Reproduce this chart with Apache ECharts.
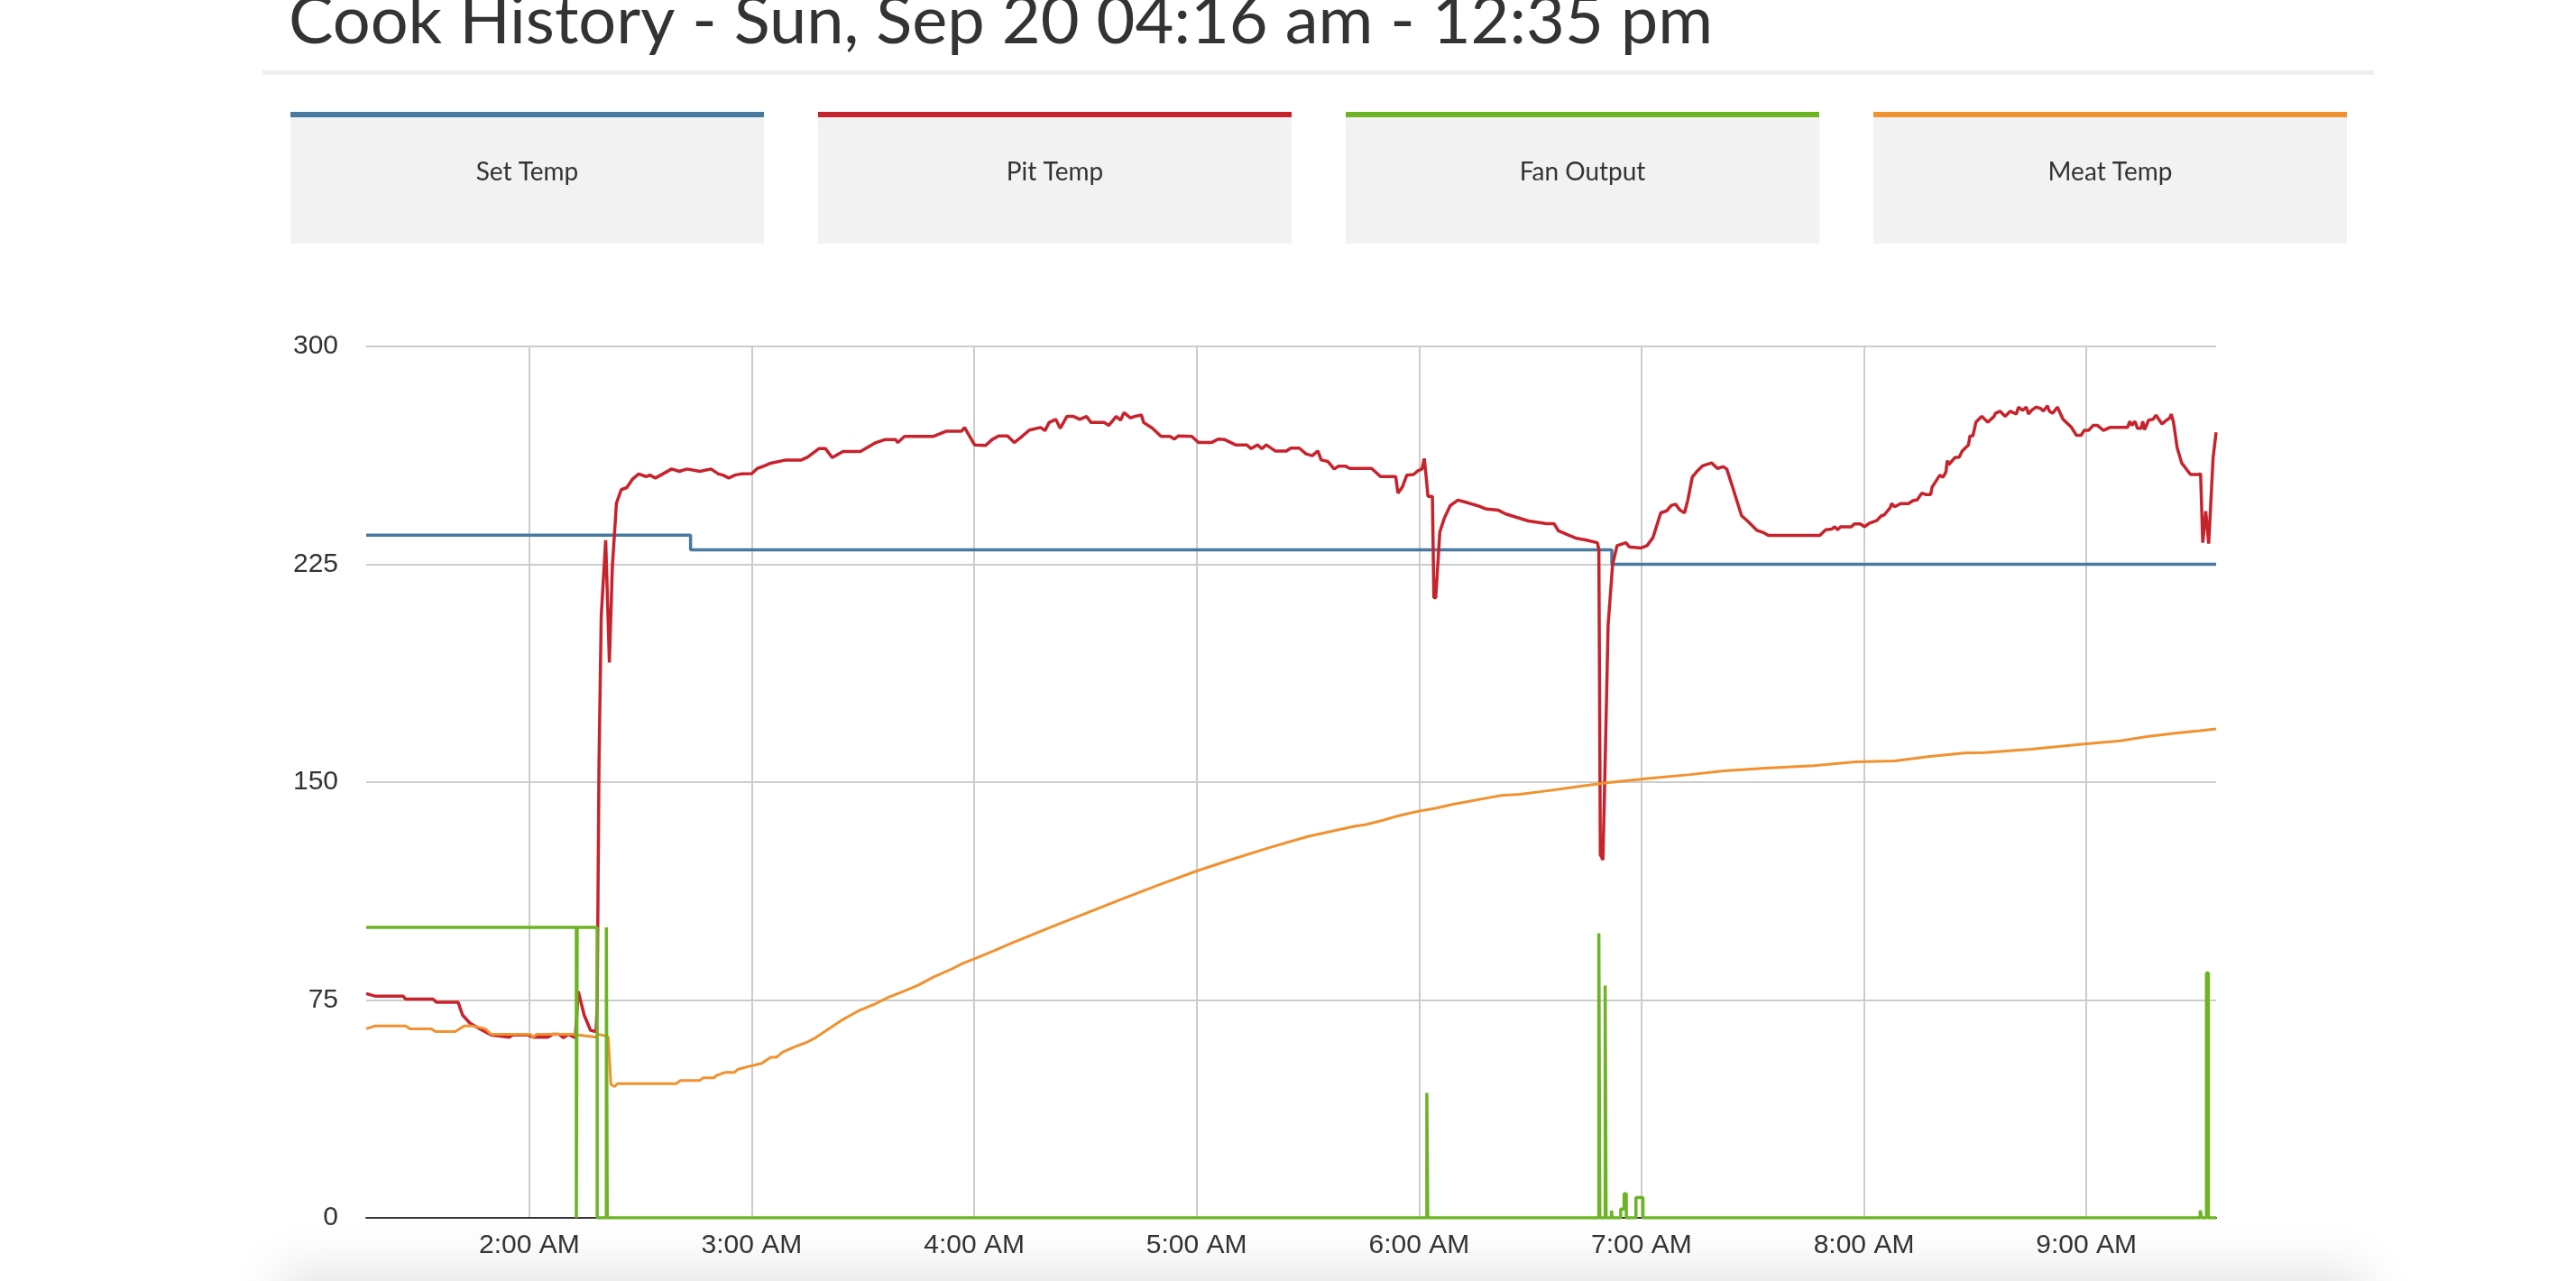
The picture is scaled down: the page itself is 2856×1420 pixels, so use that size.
<!DOCTYPE html>
<html><head><meta charset="utf-8">
<script src="https://cdn.jsdelivr.net/npm/echarts@6/dist/echarts.min.js"></script>
<style>
html,body{margin:0;padding:0;background:#fff;width:2856px;height:1420px;overflow:hidden;position:relative}
#shadow{position:absolute;left:330px;width:2270px;top:1430px;height:100px;box-shadow:0 0 60px 20px rgba(0,0,0,0.12);background:#eee}
#chart{position:absolute;left:0;top:0;width:2856px;height:1420px;z-index:1}
</style></head><body>
<div id="shadow"></div>
<div id="chart"></div>
<script>
// ---- data (times in minutes after midnight) ----
const titleText = 'Cook History - Sun, Sep 20 04:16 am - 12:35 pm';
const seriesNames = ['Set Temp', 'Pit Temp', 'Fan Output', 'Meat Temp'];
const seriesColors = ['#48799f', '#c7232c', '#6cb424', '#f1912f'];
const xTickMinutes = [120, 180, 240, 300, 360, 420, 480, 540];
const xTickLabels = ['2:00 AM', '3:00 AM', '4:00 AM', '5:00 AM', '6:00 AM', '7:00 AM', '8:00 AM', '9:00 AM'];
const yTicks = [0, 75, 150, 225, 300];

const setTimes = [76, 163.5, 412, 575];
const setValues = [235, 230, 225, 225];

const pitTimes = [76, 78.5, 86, 86.6, 94, 95, 100.8, 102, 104, 107.3, 109.7, 114.6, 115.5, 119.5, 121, 125, 126.3, 128, 129.2, 130.5, 132.4, 133.2, 134.8, 136.5, 138, 138.3, 138.8, 139.4, 140.6, 141.6, 142.4, 143.5, 144.8, 146.3, 147.9, 149.5, 151.5, 152.5, 154, 156, 158.4, 160.5, 162.5, 166, 169, 171, 172.2, 173.8, 175.5, 177.1, 180,
  181.5, 183.3, 185.1, 189.2, 193.4, 195.1, 198.1, 199.9, 201.7, 204.6, 209.3, 213.5, 215.9, 218.8, 219.4, 221.2, 228.9, 232.4, 236.6, 237.4, 240.1, 243.1, 244.8, 246.6, 249, 250.8, 252.5, 254.9, 257.9, 259.1, 260.2, 262, 263.2, 265, 266.8, 268.5, 270.3, 271.5, 275.1, 276.3, 278.3, 279.5, 280.4, 282.1, 283.3, 285.1, 285.7, 288.1, 290.4, 292.8, 294, 295.1, 298.7, 300.5, 304, 305.8, 307.6, 310.5, 313.5, 314.7, 316.4, 317.6, 318.8, 321.2, 324.2, 325.4, 327.7, 329.5, 331.2, 332.7, 333.6, 335.4, 337.1, 338.3, 340.1, 341.3, 347.2, 349.6, 353.7, 354.3, 355.5, 356.7, 358.5, 359.7, 360.8, 361.4,
  361.9, 362.4, 363.6, 364.0, 364.5, 365.6, 366.8, 368.4, 370.5, 373.3, 375.7, 378.2, 381.4, 383.4, 389.5, 394.4, 396.4, 397.6, 400.0, 402.5, 404.9, 408.1, 408.5, 408.9, 409.6, 410.2, 411.0, 412.2, 413.4, 415.8, 416.7, 419.9, 421.5, 423.1, 425.2, 426.8, 428, 429.2, 430.4, 431.6, 432.5, 433.7, 434.9, 436.5, 438.9, 440.5, 442, 443, 444.6, 447, 448.6, 451.1, 452.7, 454.3, 468.1,
  469.7, 471.3, 472.1, 472.9, 473.7, 476.6, 477.4, 479, 480.2, 481.4, 483.4, 484.7, 485.5, 487.1, 487.5, 488.3, 489.9, 492, 493.2, 494.4, 495.6, 496.8, 498, 498.4, 500.5, 501.3, 502.1, 502.5, 502.9, 504.5, 505.7, 506.5, 508.2, 508.6, 509.4, 510.2, 511.8, 513.4, 515.1, 515.5, 516.7, 518.1, 519.5, 521.1, 521.7, 522.8, 523.8, 524.4, 525.2, 526.4, 527.6, 528.4, 529.5, 530, 530.9, 532.2, 533.7, 536, 537.3, 538.6, 539.4, 540.6, 541.8, 543, 544.6, 546.3, 551.1, 551.7, 552.3, 553.1, 553.8, 554.8, 555.2, 555.7, 556.8, 558, 558.8, 560.4, 561.2, 562.5, 562.9, 563.5, 564.5, 565.7, 567.3, 568.1, 570.3, 570.8, 571.4, 572.2, 573, 574.2, 575];
const pitValues = [77.2, 76.3, 76.3, 75.3, 75.3, 74.2, 74.2, 69.8, 67, 64.6, 63, 62.2, 63, 63, 62.2, 62.2, 63.2, 63.2, 62, 63.2, 62, 78, 69.8, 64.6, 64.1, 72.5, 156.7, 207.2, 233.3, 191.2, 224.1, 246, 250.7, 251.4, 254.4, 256.1, 255.2, 255.7, 254.7, 256.1, 257.8, 257, 257.8, 257, 257.8, 256.1, 255.7, 254.7, 255.7, 256.1, 256.2,
  258, 258.8, 259.8, 260.9, 260.9, 261.9, 264.8, 264.8, 261.7, 263.8, 263.8, 266.9, 267.9, 267.9, 266.9, 269, 269, 270.8, 270.8, 272.1, 266.1, 265.9, 267.9, 269.2, 269.2, 266.9, 268.6, 271.2, 272.1, 271, 273.8, 274.9, 271.8, 275.9, 275.9, 274.9, 275.9, 273.8, 273.8, 272.8, 275.9, 274.6, 277.2, 275.4, 275.9, 276.4, 273.8, 271.8, 269, 269, 268.1, 269.2, 269, 266.9, 266.9, 268.1, 267.9, 266.1, 266.1, 264.8, 266.1, 264.8, 266.1, 264, 264, 265, 265, 263, 262.4, 264, 260.9, 260.4, 257.8, 258.8, 258.8, 258, 258, 255.2, 255.2, 249.5, 251.6, 255.7, 255.9, 257.2, 257.8, 261.4,
  255.4, 248.4, 248.4, 213.5, 213.5, 236.1, 240.8, 245.2, 247.1, 246.1, 245.2, 244.0, 243.6, 242.3, 239.9, 239.0, 239.0, 236.5, 235.2, 233.9, 233.4, 232.4, 230, 125, 123.2, 157.1, 204.1, 224.8, 231.4, 232.4, 231, 230.6, 231.4, 234.2, 242.7, 243.4, 245.2, 245.7, 243.6, 242.7, 247.1, 255, 256.9, 258.9, 259.9, 258, 258.6, 257.8, 251.5, 241.7, 239.9, 236.7, 236, 234.9, 234.9,
  236.9, 237.1, 237.9, 236.9, 237.9, 237.9, 238.9, 238.9, 237.9, 239.1, 240, 241.7, 242, 244.5, 245.9, 244.8, 245.9, 245.9, 246.9, 247.2, 249.5, 249, 249, 251.6, 255.7, 254.9, 256.7, 260.7, 259.3, 261.7, 261.9, 264, 266.1, 269.2, 269.2, 273.9, 275.9, 273.9, 275.9, 277, 277.7, 275.9, 277.7, 276.7, 279.1, 278, 279.1, 276.7, 278, 279.1, 278.7, 277.7, 279.6, 277.7, 277, 279.1, 274.9, 272.1, 269.4, 269.4, 271.1, 271.1, 272.8, 272.8, 271.1, 272.1, 272.1, 274.2, 272.8, 274.2, 271.8, 271.8, 274.2, 271.3, 274.6, 274.9, 276.3, 273.3, 274.2, 275.4, 276.7, 273.9, 265.1, 259.9, 257.2, 255.9, 255.9, 256.2, 232.4, 243.3, 232.1, 261.9, 270.4];

const fanTimes = [76, 132.68, 132.92, 138.3, 140.78, 141.02, 362.1, 362.35, 408.5, 408.75, 410.2, 410.45, 411.9, 412.1, 414.4, 415.3, 415.9, 418.5, 420.4, 570.7, 571.1, 572.4, 572.9, 575];
const fanValues = [100, 0, 100, 0, 100, 0, 43, 0, 98, 0, 80, 0, 2.5, 0, 3, 8.3, 0, 7, 0, 2.6, 0, 84.3, 0, 0];

const meatTimes = [76, 78.5, 86.6, 87.8, 93.5, 94.7, 100, 101, 102.4, 104.5, 108.1, 109.7, 120.3, 121, 122, 131.6, 138.1, 138.5, 140.1, 141.3, 142, 143, 143.8, 159.6, 160.8, 166, 166.9, 169.8, 170.5, 172.9, 175.4, 176.2, 179.4, 182.7, 185.1, 186.7, 188.3, 191.6, 194.8, 197.2, 200.6, 204.6, 208.7, 212.7, 216.8, 220.8, 224.9, 229, 233, 237.1, 241.1, 245.2, 250, 260, 270, 280, 290, 300, 310, 320, 330, 342.5, 345.7, 349.8, 353.8, 357.1, 360.3, 364.4, 369.2, 373.3, 377.3, 382.2, 387.1, 392.7, 398.4, 404.1, 410.5, 417, 423.5, 433.2, 442.2, 453.5, 466.5, 477.8, 488.3, 497.3, 507, 512.7, 525, 540, 549.1, 556.4, 564.5, 570.6, 575];
const meatValues = [65.1, 66.1, 66.1, 65.1, 65.1, 64.1, 64.1, 64.9, 66.1, 66.1, 65.1, 63.2, 63.2, 62.2, 63.2, 63.2, 62.2, 63.2, 62.8, 62.2, 45.9, 45.2, 46.2, 46.2, 47.3, 47.3, 48.2, 48.2, 49, 50.1, 50.1, 51.1, 52.2, 53.2, 55.3, 55.3, 57, 58.9, 60.4, 62, 64.9, 68.3, 71.2, 73.3, 75.9, 77.9, 80.1, 82.9, 85.1, 87.7, 89.7, 91.9, 94.5, 99.7, 104.8, 109.8, 114.7, 119.4, 123.6, 127.6, 131.3, 134.8, 135.4, 136.7, 138.2, 139.2, 140.1, 141, 142.4, 143.3, 144.3, 145.4, 145.8, 146.7, 147.7, 148.7, 149.8, 150.6, 151.5, 152.6, 153.9, 154.8, 155.7, 157, 157.3, 158.8, 160, 160.2, 161.3, 163.2, 164.2, 165.7, 166.9, 167.7, 168.3];

// ---- chart ----
function zip(ts, vs) { return ts.map((t, i) => [t, vs[i]]); }

const boxLeft = [322, 907, 1492, 2077];
const graphics = [
  { type: 'text', x: 320, y: 24, style: { text: titleText, font: '400 74px Lato', fill: '#333', textAlign: 'left', align: 'left', textVerticalAlign: 'middle', verticalAlign: 'middle' } },
  { type: 'rect', shape: { x: 291, y: 78, width: 2341, height: 5 }, style: { fill: '#efefef' } }
];
seriesNames.forEach((n, i) => {
  graphics.push({ type: 'rect', shape: { x: boxLeft[i], y: 124, width: 525, height: 146 }, style: { fill: '#f2f2f2' } });
  graphics.push({ type: 'rect', shape: { x: boxLeft[i], y: 124, width: 525, height: 6 }, style: { fill: seriesColors[i] } });
  graphics.push({ type: 'text', x: boxLeft[i] + 262.5, y: 191, style: { text: n, font: '400 28px Lato', fill: '#333', textAlign: 'center', align: 'center', textVerticalAlign: 'middle', verticalAlign: 'middle' } });
});

const chart = echarts.init(document.getElementById('chart'), null, { renderer: 'canvas' });
chart.setOption({
  animation: false,
  graphic: graphics,
  grid: { left: 406, right: 399, top: 384, bottom: 70, containLabel: false },
  xAxis: {
    type: 'value', min: 76, max: 575,
    axisLine: { show: true, lineStyle: { color: '#333', width: 2 } },
    axisTick: { show: false, customValues: xTickMinutes },
    axisLabel: {
      customValues: xTickMinutes,
      formatter: v => xTickLabels[xTickMinutes.indexOf(v)] || '',
      fontFamily: 'Liberation Sans', fontSize: 30, color: '#333', margin: 16
    },
    splitLine: { show: true, lineStyle: { color: '#cccccc', width: 2 } }
  },
  yAxis: {
    type: 'value', min: yTicks[0], max: yTicks[yTicks.length - 1], interval: 75,
    axisLine: { show: false }, axisTick: { show: false },
    axisLabel: { fontFamily: 'Liberation Sans', fontSize: 30, color: '#333', margin: 31 },
    splitLine: { show: true, lineStyle: { color: '#cccccc', width: 2 } }
  },
  series: [
    { name: seriesNames[0], type: 'line', step: 'end', data: zip(setTimes, setValues), showSymbol: false, symbol: 'none', lineStyle: { color: seriesColors[0], width: 3.5 }, itemStyle: { color: seriesColors[0] }, z: 2 },
    { name: seriesNames[1], type: 'line', data: zip(pitTimes, pitValues), showSymbol: false, symbol: 'none', lineStyle: { color: seriesColors[1], width: 3.5 }, itemStyle: { color: seriesColors[1] }, z: 3 },
    { name: seriesNames[3], type: 'line', data: zip(meatTimes, meatValues), showSymbol: false, symbol: 'none', lineStyle: { color: seriesColors[3], width: 3 }, itemStyle: { color: seriesColors[3] }, z: 4 },
    { name: seriesNames[2], type: 'line', step: 'end', data: zip(fanTimes, fanValues), showSymbol: false, symbol: 'none', lineStyle: { color: seriesColors[2], width: 3.5 }, itemStyle: { color: seriesColors[2] }, z: 5 }
  ]
});
</script>
</body></html>
